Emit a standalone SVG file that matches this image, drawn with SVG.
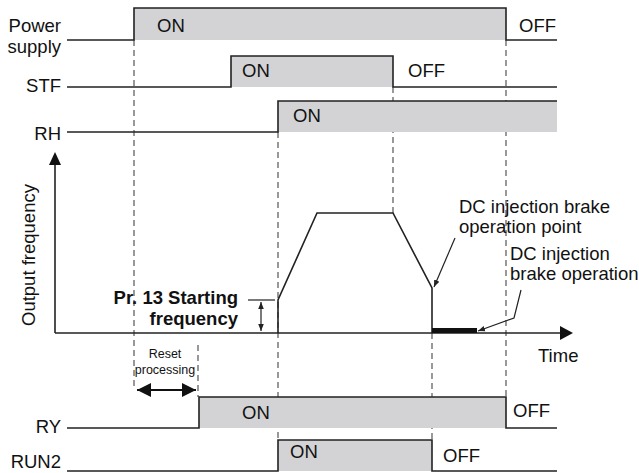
<svg xmlns="http://www.w3.org/2000/svg" width="639" height="473" viewBox="0 0 639 473">
<defs>
<style>
.t{font-family:"Liberation Sans",Arial,sans-serif;font-size:18.5px;fill:#111}
.b{font-weight:bold}
.s{font-size:12.5px}
.sig{fill:none;stroke:#222;stroke-width:1.6}
.gr{fill:#d3d3d5;stroke:none}
.dash{stroke:#555;stroke-width:1.2;stroke-dasharray:6,4;fill:none}
.ln{stroke:#222;stroke-width:1.2;fill:none}
</style>
<marker id="ah" viewBox="0 0 10 10" refX="10" refY="5" markerWidth="7" markerHeight="7" markerUnits="userSpaceOnUse" orient="auto-start-reverse"><path d="M0,1 L10,5 L0,9 z" fill="#222"/></marker>
<marker id="big" viewBox="0 0 10 10" refX="10" refY="5" markerWidth="14" markerHeight="14" markerUnits="userSpaceOnUse" orient="auto-start-reverse"><path d="M0,0 L10,5 L0,10 z" fill="#111"/></marker>
</defs>

<g id="connectors">
<line class="dash" x1="134" y1="40" x2="134" y2="388"/>
<line class="dash" x1="198" y1="345" x2="198" y2="397"/>
<line class="dash" x1="278" y1="132" x2="278" y2="440"/>
<line class="dash" x1="393" y1="87" x2="393" y2="213"/>
<line class="dash" x1="432" y1="333" x2="432" y2="440"/>
<line class="dash" x1="506" y1="40" x2="506" y2="397"/>
</g>

<g id="power-supply">
<rect class="gr" x="134" y="8" width="372" height="32"/>
<polyline class="sig" points="67,40 134,40 134,8 506,8 506,40 557,40"/>
<text class="t" x="61" y="32" text-anchor="end">Power</text>
<text class="t" x="61" y="53" text-anchor="end">supply</text>
<text class="t" x="157" y="32">ON</text>
<text class="t" x="519" y="32">OFF</text>
</g>

<g id="stf">
<rect class="gr" x="231" y="56" width="162" height="31"/>
<polyline class="sig" points="67,87 231,87 231,56 393,56 393,87 557,87"/>
<text class="t" x="61" y="92" text-anchor="end">STF</text>
<text class="t" x="242" y="77">ON</text>
<text class="t" x="408" y="77">OFF</text>
</g>

<g id="rh">
<rect class="gr" x="278" y="101" width="279" height="31"/>
<polyline class="sig" points="67,132 278,132 278,101 557,101"/>
<text class="t" x="61" y="140" text-anchor="end">RH</text>
<text class="t" x="293" y="122">ON</text>
</g>

<g id="output-frequency">
<line class="sig" x1="55" y1="333" x2="55" y2="162"/>
<path d="M49,165 L55,152 L61,165 z" fill="#111"/>
<line class="sig" x1="55" y1="333" x2="562" y2="333"/>
<path d="M560,326 L573,333 L560,340 z" fill="#111"/>
<polyline class="sig" points="278,333 278,300 317,213 393,213 432,288 432,333"/>
<rect x="432" y="328" width="45" height="5" fill="#111"/>
<text class="t" transform="translate(35,326) rotate(-90)">Output frequency</text>
<line class="ln" x1="248" y1="300" x2="275" y2="300"/>
<line class="ln" x1="261" y1="302" x2="261" y2="331" marker-start="url(#ah)" marker-end="url(#ah)"/>
<text class="t b" x="238" y="304" text-anchor="end">Pr. 13 Starting</text>
<text class="t b" x="238" y="325" text-anchor="end">frequency</text>
<text class="t" x="538" y="362">Time</text>
</g>

<g id="dc-brake-point">
<text class="t" x="459" y="213">DC injection brake</text>
<text class="t" x="459" y="233">operation point</text>
<line class="ln" x1="455" y1="238" x2="434" y2="287" marker-end="url(#ah)"/>
</g>

<g id="dc-brake-operation">
<text class="t" x="510" y="260">DC injection</text>
<text class="t" x="510" y="280">brake operation</text>
<polyline class="ln" points="521,290 514,318 478,331" marker-end="url(#ah)"/>
</g>

<g id="reset-processing">
<text class="t s" x="165" y="358" text-anchor="middle">Reset</text>
<text class="t s" x="165" y="374" text-anchor="middle">processing</text>
<line x1="137" y1="390" x2="196" y2="390" stroke="#111" stroke-width="2" marker-start="url(#big)" marker-end="url(#big)"/>
</g>

<g id="ry">
<rect class="gr" x="199" y="397" width="307" height="31"/>
<polyline class="sig" points="67,428 199,428 199,397 506,397 506,428 557,428"/>
<text class="t" x="61" y="433" text-anchor="end">RY</text>
<text class="t" x="242" y="419">ON</text>
<text class="t" x="513" y="417">OFF</text>
</g>

<g id="run2">
<rect class="gr" x="278" y="440" width="154" height="31"/>
<polyline class="sig" points="67,471 278,471 278,440 432,440 432,471 557,471"/>
<text class="t" x="61" y="468" text-anchor="end">RUN2</text>
<text class="t" x="290" y="458">ON</text>
<text class="t" x="443" y="462">OFF</text>
</g>
</svg>
